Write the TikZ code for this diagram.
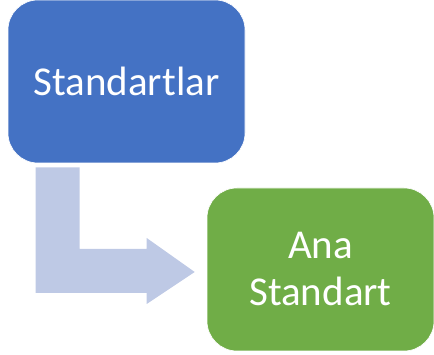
\documentclass[tikz,border=0pt]{standalone}
\usepackage{fontspec}
\setmainfont{Carlito}
\usepackage{tikz}
\usetikzlibrary{calc,positioning}
\definecolor{accb}{HTML}{4472C4}
\definecolor{accg}{HTML}{70AD47}
\definecolor{soft}{HTML}{BEC9E5}
\tikzset{
  box/.style={draw=white,line width=0.6pt,rounded corners=30pt,text=white,align=center,
    font=\fontsize{41}{47}\selectfont,inner sep=0pt},
  bbox/.style={box,fill=accb,minimum width=237pt,minimum height=163pt},
  gbox/.style={box,fill=accg,minimum width=227pt,minimum height=163pt},
  barr/.style={fill=soft,draw=none},
}
\begin{document}
\begin{tikzpicture}[x=1pt,y=1pt]
\useasboundingbox (0,0) rectangle (434,355);
\node[bbox] (std) at (126.5,273.5) {Standartlar};
\node[gbox] (ana) at (320.5,85.5) {Ana\\Standart};
% bent block arrow from the top box round to the lower one
\coordinate (tl) at ($(std.south west)+(28,-4)$);
\coordinate (tip) at ($(ana.west)+(-12,-2.5)$);
\fill[barr] (tl) -- ++(44,0) |- ($(tip)+(-48,23)$) -- ++(0,11)
  -- (tip) -- ++(-48,-32) -- ++(0,11) -| (tl) -- cycle;
\end{tikzpicture}
\end{document}
